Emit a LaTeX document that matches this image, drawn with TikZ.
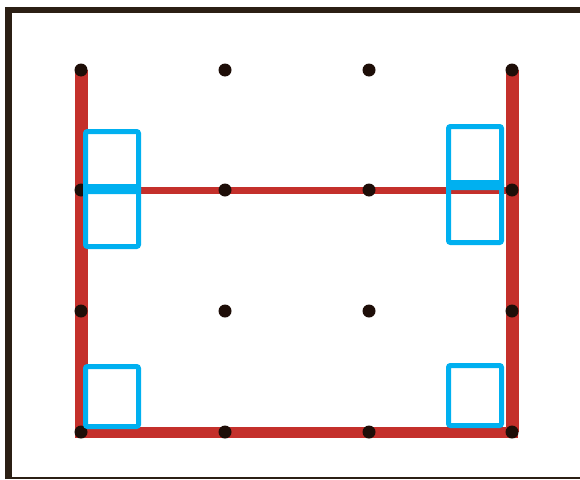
\documentclass[tikz,border=0pt]{standalone}
\definecolor{framec}{HTML}{2B1F14}
\definecolor{redl}{HTML}{C4302B}
\definecolor{bluebox}{HTML}{00B0F0}
\definecolor{dotc}{HTML}{1E0E08}
\begin{document}
\begin{tikzpicture}[x=1pt,y=-1pt,
  dot/.style={circle,fill=dotc,inner sep=0pt,minimum size=13pt},
  redline/.style={draw=redl,line cap=butt},
  bbox/.style={draw=bluebox,line width=5pt,rounded corners=2pt,inner sep=0pt,minimum width=53pt,minimum height=60pt}]
\useasboundingbox (0,0) rectangle (580,479);
\fill[white] (0,0) rectangle (580,479);
% frame
\coordinate (f1) at (8.5,479);
\coordinate (f2) at (8.5,10);
\coordinate (f3) at (580,10);
\coordinate (f4) at (8.5,478.2);
\coordinate (f5) at (580,478.2);
\draw[framec,line width=6.5pt] (f1) -- (f2) -- (f3);
\draw[framec,line width=1.6pt] (f4) -- (f5);
% grid coordinates
\foreach \i/\x in {1/81,2/225,3/369,4/512}{
  \foreach \j/\y in {1/70,2/190,3/311,4/432}{
    \coordinate (c\i\j) at (\x,\y);
  }
}
% red lines
\draw[redline,line width=13pt] (c11) -- (c14);
\draw[redline,line width=13pt] (c41) -- (c44);
\draw[redline,line width=11pt] ([xshift=-6pt]c14) -- ([xshift=6pt]c44);
\draw[redline,line width=7pt] (c12) -- (c42);
% dots
\foreach \i in {1,2,3,4}{
  \foreach \j in {1,2,3,4}{
    \node[dot] (d\i\j) at (c\i\j) {};
  }
}
% blue boxes
\node[bbox] (b1) at (112,161.5) {};
\node[bbox] (b2) at (112,216.5) {};
\node[bbox] (b3) at (112,396.5) {};
\node[bbox,minimum height=61pt] (b4) at (475,157) {};
\node[bbox] (b5) at (475,212.5) {};
\node[bbox] (b6) at (475,395.5) {};
\end{tikzpicture}
\end{document}
